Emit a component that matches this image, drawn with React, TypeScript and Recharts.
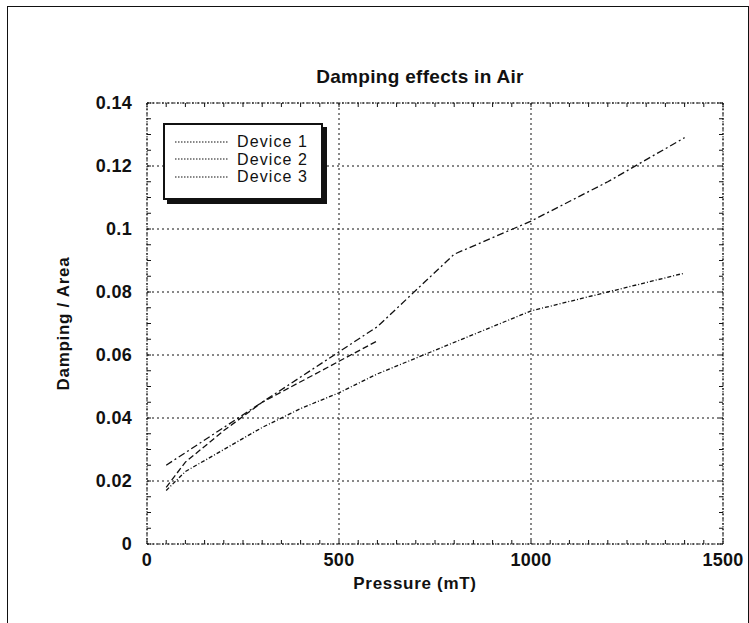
import { LineChart, Line, XAxis, YAxis, CartesianGrid, Legend, Label } from 'recharts'

// pressure (mT) and damping/area
const dev1X = [50, 100, 200, 300, 400, 500, 600, 800, 1000, 1200, 1400]
const dev1Y = [0.017, 0.023, 0.030, 0.037, 0.043, 0.048, 0.054, 0.064, 0.074, 0.080, 0.086]

const dev2X = [50, 100, 200, 300, 400, 500, 600, 800, 1000, 1200, 1400]
const dev2Y = [0.025, 0.029, 0.037, 0.045, 0.053, 0.061, 0.069, 0.092, 0.1025, 0.115, 0.129]

const dev3X = [50, 100, 200, 300, 400, 500, 600]
const dev3Y = [0.018, 0.026, 0.036, 0.045, 0.0515, 0.058, 0.0645]

const xMajor = [0, 500, 1000, 1500]
const yMajor = [0, 0.02, 0.04, 0.06, 0.08, 0.1, 0.12, 0.14]
// minor tick marks every 50 mT and every 0.005
const xMinorTicks = Array.from({ length: 31 }, (_, i) => i * 50)
const yMinorTicks = Array.from({ length: 29 }, (_, i) => Number((i * 0.005).toFixed(3)))

const toPoints = (xs: number[], ys: number[]) => xs.map((x, i) => ({ x, y: ys[i] }))

const series = [
  { name: 'Device 1', data: toPoints(dev1X, dev1Y), dash: '4 2 1 2' },
  { name: 'Device 2', data: toPoints(dev2X, dev2Y), dash: '7 3 2 3' },
  { name: 'Device 3', data: toPoints(dev3X, dev3Y), dash: '6 3' },
]

const FONT = '"Liberation Sans", Arial, sans-serif'
const INK = '#111'

const isMajorX = (v: number) => xMajor.includes(v)
const isMajorY = (v: number) => yMajor.some((m) => Math.abs(m - v) < 1e-9)

const LegendBox = () => (
  <div
    style={{
      width: 156,
      height: 65,
      border: `2px solid ${INK}`,
      boxShadow: `4px 4px 0 ${INK}`,
      background: '#fff',
      fontFamily: FONT,
      fontSize: 16,
      letterSpacing: 1.1,
      color: INK,
      paddingTop: 8,
      boxSizing: 'content-box',
    }}
  >
    {series.map((s) => (
      <div key={s.name} style={{ display: 'flex', alignItems: 'center', height: 17.5 }}>
        <svg width={62} height={6} style={{ marginLeft: 10 }}>
          <line x1={0} y1={3} x2={54} y2={3} stroke={INK} strokeWidth={1.2} strokeDasharray="1.5 1.5" />
        </svg>
        <span style={{ lineHeight: '17px' }}>{s.name}</span>
      </div>
    ))}
  </div>
)

const tickFont = { fontSize: 18, fontWeight: 'bold', fill: INK, fontFamily: FONT, letterSpacing: 0.3 }
const labelFont = { fontSize: 17, fontWeight: 'bold', fill: INK, fontFamily: FONT, letterSpacing: 0.7 }
const boxLine = { stroke: INK, strokeDasharray: '1.5 1.5' }

const App = () => {
  return (
    <div style={{ position: 'absolute', left: 0, top: 0, width: 749, height: 623, overflow: 'hidden', background: '#fff' }}>
      <div
        style={{
          position: 'absolute',
          left: 7,
          top: 6,
          width: 740,
          height: 617,
          borderTop: `1px solid ${INK}`,
          borderLeft: `1px solid ${INK}`,
          borderRight: `1px solid ${INK}`,
        }}
      />
      <div
        style={{
          position: 'absolute',
          left: 0,
          width: 840,
          top: 66,
          textAlign: 'center',
          fontFamily: FONT,
          fontWeight: 'bold',
          fontSize: 19,
          letterSpacing: 0.3,
          color: INK,
        }}
      >
        Damping effects in Air
      </div>
      <div style={{ position: 'absolute', left: 0, top: 0 }}>
        <LineChart width={749} height={623} margin={{ top: 0, right: 0, bottom: 0, left: 0 }}>
          <CartesianGrid
            xAxisId="main"
            yAxisId="main"
            stroke={INK}
            strokeDasharray="2 3"
            verticalValues={xMajor}
            horizontalValues={yMajor}
          />
          <XAxis
            xAxisId="main"
            dataKey="x"
            type="number"
            domain={[0, 1500]}
            ticks={xMinorTicks}
            interval={0}
            allowDataOverflow
            height={79}
            tickSize={-4}
            tickMargin={13}
            tickLine={{ stroke: INK }}
            axisLine={boxLine}
            tick={tickFont}
            tickFormatter={(v: number) => (isMajorX(v) ? String(v) : '')}
          >
            <Label value="Pressure (mT)" position="center" dx={-20} dy={-1} style={labelFont} />
          </XAxis>
          <XAxis
            xAxisId="top"
            orientation="top"
            dataKey="x"
            type="number"
            domain={[0, 1500]}
            ticks={xMinorTicks}
            interval={0}
            allowDataOverflow
            height={103}
            tickSize={-4}
            tickLine={{ stroke: INK }}
            axisLine={boxLine}
            tickFormatter={() => ''}
          />
          <YAxis
            yAxisId="main"
            type="number"
            domain={[0, 0.14]}
            ticks={yMinorTicks}
            interval={0}
            allowDataOverflow
            width={147}
            tickSize={-4}
            tickMargin={19}
            tickLine={{ stroke: INK }}
            axisLine={boxLine}
            tick={tickFont}
            tickFormatter={(v: number) => (isMajorY(v) ? String(Number(v.toFixed(2))) : '')}
          >
            <Label value="Damping / Area" position="center" angle={-90} dx={-11} style={labelFont} />
          </YAxis>
          <YAxis
            yAxisId="right"
            orientation="right"
            type="number"
            domain={[0, 0.14]}
            ticks={yMinorTicks}
            interval={0}
            allowDataOverflow
            width={26}
            tickSize={-4}
            tickLine={{ stroke: INK }}
            axisLine={boxLine}
            tickFormatter={() => ''}
          />
          <Legend
            layout="horizontal"
            align="center"
            verticalAlign="middle"
            content={() => <LegendBox />}
            wrapperStyle={{ left: 163, top: 123, width: 164, height: 73 }}
          />
          {series.map((s) => (
            <Line
              key={s.name}
              name={s.name}
              data={s.data}
              dataKey="y"
              xAxisId="main"
              yAxisId="main"
              type="linear"
              stroke={INK}
              strokeWidth={1.3}
              strokeDasharray={s.dash}
              dot={false}
              isAnimationActive={false}
            />
          ))}
          {/* invisible copy so the top and right frame axes get drawn */}
          <Line
            data={series[1].data}
            dataKey="y"
            xAxisId="top"
            yAxisId="right"
            stroke="none"
            dot={false}
            activeDot={false}
            legendType="none"
            isAnimationActive={false}
          />
        </LineChart>
      </div>
    </div>
  )
}

export default App
